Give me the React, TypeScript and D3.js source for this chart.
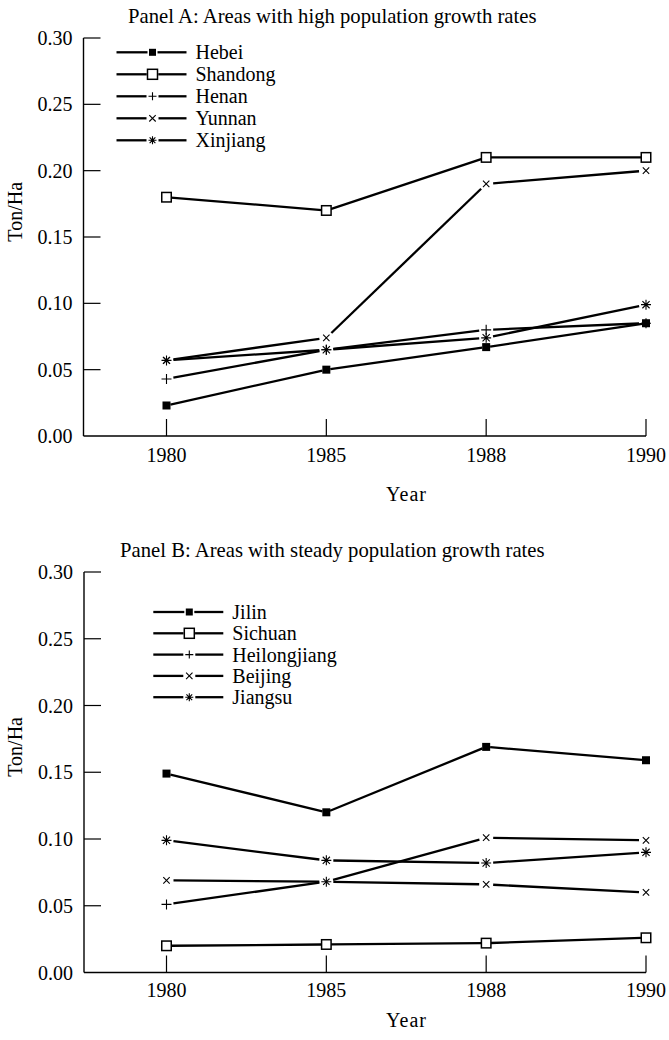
import React from "react";
import * as d3 from "d3";

// ---------- data ----------
const years = ["1980", "1985", "1988", "1990"];
const yTicks = [0, 0.05, 0.1, 0.15, 0.2, 0.25, 0.3];

const panelANames = ["Hebei", "Shandong", "Henan", "Yunnan", "Xinjiang"];
const hebei = [0.023, 0.05, 0.067, 0.085];
const shandong = [0.18, 0.17, 0.21, 0.21];
const henan = [0.043, 0.065, 0.08, 0.085];
const yunnan = [0.057, 0.074, 0.19, 0.2];
const xinjiang = [0.057, 0.065, 0.074, 0.099];

const panelBNames = ["Jilin", "Sichuan", "Heilongjiang", "Beijing", "Jiangsu"];
const jilin = [0.149, 0.12, 0.169, 0.159];
const sichuan = [0.02, 0.021, 0.022, 0.026];
const heilongjiang = [0.051, 0.068, 0.101, 0.099];
const beijing = [0.069, 0.068, 0.066, 0.06];
const jiangsu = [0.099, 0.084, 0.082, 0.09];

const panelATitle = "Panel A: Areas with high population growth rates";
const panelBTitle = "Panel B: Areas with steady population growth rates";
const yLabel = "Ton/Ha";
const xLabel = "Year";

// ---------- styling ----------
const markerTypes = ["filledSquare", "openSquare", "plus", "cross", "star"];
// in the printed figure the last two Heilongjiang points are drawn as crosses
const markerOverrides: Record<string, Record<number, string>> = {
  Heilongjiang: { 2: "cross", 3: "cross" },
};
const FONT = "'Liberation Serif', 'Times New Roman', serif";
const FS = 20;
const TITLE_FS = 20.7;
const LW = 2.3;

type M = string;

function markerGap(t: M) {
  if (t === "filledSquare") return 4;
  if (t === "openSquare") return 4.5;
  return 7;
}

function Marker({ t, x, y, s }: { t: M; x: number; y: number; s: number }) {
  const h = s / 2;
  if (t === "filledSquare")
    return <rect x={x - h} y={y - h} width={s} height={s} fill="#000" />;
  if (t === "openSquare")
    return (
      <rect x={x - h} y={y - h} width={s} height={s} fill="#fff" stroke="#000" strokeWidth={1.5} />
    );
  if (t === "plus")
    return (
      <path d={`M${x - h},${y}H${x + h}M${x},${y - h}V${y + h}`} stroke="#000" strokeWidth={1.1} fill="none" />
    );
  if (t === "cross") {
    const k = h * 0.8;
    return (
      <path d={`M${x - k},${y - k}L${x + k},${y + k}M${x - k},${y + k}L${x + k},${y - k}`} stroke="#000" strokeWidth={1.1} fill="none" />
    );
  }
  const k = h * 0.72;
  return (
    <path
      d={`M${x - h},${y}H${x + h}M${x},${y - h}V${y + h}M${x - k},${y - k}L${x + k},${y + k}M${x - k},${y + k}L${x + k},${y - k}`}
      stroke="#000"
      strokeWidth={1.1}
      fill="none"
    />
  );
}

function markerSize(t: M) {
  if (t === "filledSquare") return 8;
  if (t === "openSquare") return 9.5;
  if (t === "plus") return 10;
  if (t === "cross") return 8;
  return 10;
}

type PanelCfg = {
  title: string;
  titleX: number;
  titleY: number;
  names: string[];
  series: number[][];
  yTop: number;
  yBottom: number;
  axisX: number;
  legendX: number;
  legendY: number;
  legendStep: number;
  tickLabelDy: number;
  yearY: number;
};

const xScale = d3.scalePoint<string>().domain(years).range([166.5, 646]);

function Panel({ cfg }: { cfg: PanelCfg }) {
  const y = d3.scaleLinear().domain([0, 0.3]).range([cfg.yBottom, cfg.yTop]);
  const fmt = d3.format(".2f");
  const tickLen = 17;
  const segs: JSX.Element[] = [];
  const marks: JSX.Element[] = [];
  cfg.series.forEach((vals, si) => {
    const base = markerTypes[si];
    const ov = markerOverrides[cfg.names[si]] || {};
    const typeAt = (i: number) => ov[i] || base;
    const pts = vals.map((v, i) => [xScale(years[i]) as number, y(v)]);
    for (let i = 0; i < pts.length - 1; i++) {
      const [x0, y0] = pts[i];
      const [x1, y1] = pts[i + 1];
      const dx = x1 - x0, dy = y1 - y0;
      const len = Math.hypot(dx, dy);
      const g0 = markerGap(typeAt(i));
      const g1 = markerGap(typeAt(i + 1));
      const ux = dx / len, uy = dy / len;
      segs.push(
        <line
          key={`s${si}-${i}`}
          x1={x0 + ux * g0}
          y1={y0 + uy * g0}
          x2={x1 - ux * g1}
          y2={y1 - uy * g1}
          stroke="#000"
          strokeWidth={LW}
        />
      );
    }
    pts.forEach(([px, py], i) => {
      const t = typeAt(i);
      marks.push(<Marker key={`m${si}-${i}`} t={t} x={px} y={py} s={markerSize(t)} />);
    });
  });

  const lx0 = cfg.legendX, lx1 = cfg.legendX + 70, lmx = cfg.legendX + 36;

  return (
    <g>
      <text x={cfg.titleX} y={cfg.titleY} fontSize={TITLE_FS} fontFamily={FONT}>
        {cfg.title}
      </text>
      {/* y axis */}
      <line x1={cfg.axisX} x2={cfg.axisX} y1={cfg.yTop} y2={cfg.yBottom} stroke="#000" strokeWidth={1.4} />
      {yTicks.map((v) => (
        <g key={v}>
          {v > 0 && (
            <line x1={cfg.axisX} x2={cfg.axisX + tickLen} y1={y(v)} y2={y(v)} stroke="#000" strokeWidth={1.2} />
          )}
          <text x={cfg.axisX - 11} y={y(v) + 7} textAnchor="end" fontSize={FS} fontFamily={FONT}>
            {fmt(v)}
          </text>
        </g>
      ))}
      {/* x axis */}
      <line x1={cfg.axisX} x2={xScale(years[years.length - 1])} y1={cfg.yBottom} y2={cfg.yBottom} stroke="#000" strokeWidth={1.4} />
      {years.map((yr) => (
        <g key={yr}>
          <line x1={xScale(yr)} x2={xScale(yr)} y1={cfg.yBottom} y2={cfg.yBottom - tickLen} stroke="#000" strokeWidth={1.2} />
          <text x={xScale(yr)} y={cfg.yBottom + cfg.tickLabelDy} textAnchor="middle" fontSize={FS} fontFamily={FONT}>
            {yr}
          </text>
        </g>
      ))}
      <text x={406.5} y={cfg.yearY} textAnchor="middle" fontSize={FS} fontFamily={FONT} letterSpacing={1}>
        {xLabel}
      </text>
      <text
        transform={`translate(21.5,${y(0.169)}) rotate(-90)`}
        textAnchor="middle"
        fontSize={FS}
        fontFamily={FONT}
      >
        {yLabel}
      </text>
      {segs}
      {marks}
      {/* legend */}
      {cfg.names.map((n, i) => {
        const t = markerTypes[i];
        const ly = cfg.legendY + i * cfg.legendStep;
        const g = t === "filledSquare" || t === "openSquare" ? markerSize(t) / 2 + 1 : 6;
        return (
          <g key={n}>
            <line x1={lx0} x2={lmx - g} y1={ly} y2={ly} stroke="#000" strokeWidth={LW} />
            <line x1={lmx + g} x2={lx1} y1={ly} y2={ly} stroke="#000" strokeWidth={LW} />
            <Marker t={t} x={lmx} y={ly} s={t === "openSquare" ? 10 : t === "filledSquare" ? 7 : 8} />
            <text x={lx1 + 9} y={ly + 7} fontSize={FS} fontFamily={FONT}>
              {n}
            </text>
          </g>
        );
      })}
    </g>
  );
}

const panelA: PanelCfg = {
  title: panelATitle,
  titleX: 128,
  titleY: 23,
  names: panelANames,
  series: [hebei, shandong, henan, yunnan, xinjiang],
  yTop: 38,
  yBottom: 436,
  axisX: 83.5,
  legendX: 116.5,
  legendY: 52.3,
  legendStep: 22,
  tickLabelDy: 26,
  yearY: 501,
};

const panelB: PanelCfg = {
  title: panelBTitle,
  titleX: 120,
  titleY: 557,
  names: panelBNames,
  series: [jilin, sichuan, heilongjiang, beijing, jiangsu],
  yTop: 572,
  yBottom: 972.5,
  axisX: 84,
  legendX: 153.3,
  legendY: 612,
  legendStep: 21.3,
  tickLabelDy: 24.5,
  yearY: 1027,
};

export default function App() {
  return (
    <svg
      width={669}
      height={1040}
      style={{ position: "absolute", left: 0, top: 0, background: "#fff" }}
    >
      <rect width={669} height={1040} fill="#fff" />
      <Panel cfg={panelA} />
      <Panel cfg={panelB} />
    </svg>
  );
}
